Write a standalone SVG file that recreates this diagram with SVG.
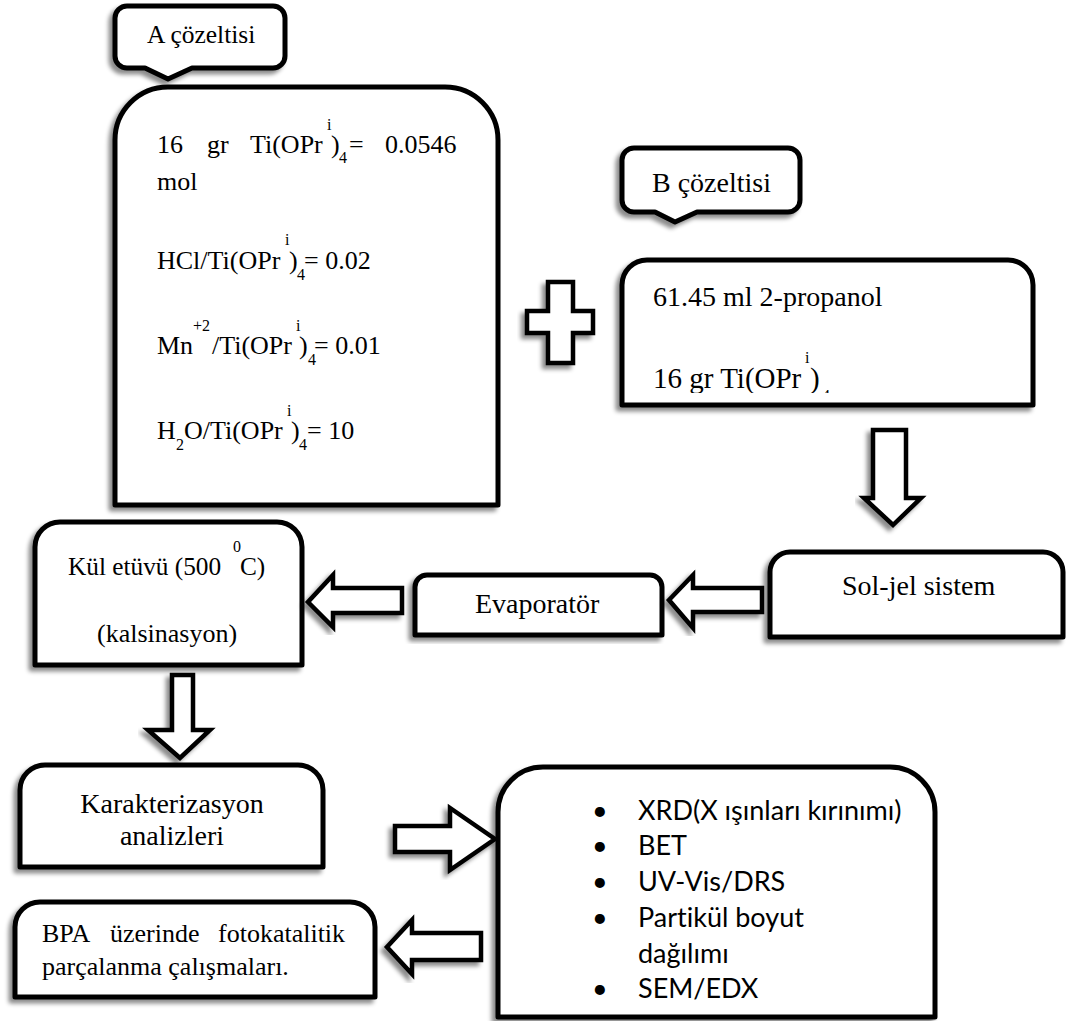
<svg xmlns="http://www.w3.org/2000/svg" width="1073" height="1021" viewBox="0 0 1073 1021">
  <defs>
    <filter id="sh" x="-15%" y="-15%" width="130%" height="130%">
      <feDropShadow dx="-4" dy="4" stdDeviation="2" flood-color="#000" flood-opacity="0.45"/>
    </filter>
    <clipPath id="bclip">
      <rect x="622" y="260" width="411" height="133"/>
    </clipPath>
  </defs>
  <style>
    .box { fill: #fff; stroke: #000; stroke-width: 5; stroke-linejoin: round; filter: url(#sh); }
    .arr { fill: #fff; stroke: #000; stroke-width: 4.5; stroke-linejoin: miter; filter: url(#sh); }
    .t { font-family: "Liberation Serif", "Times New Roman", serif; font-size: 26px; fill: #000; }
    .m { font-size: 28px; }
    .s { font-size: 16px; }
    .l { font-family: Lato, "Liberation Sans", sans-serif; font-size: 27px; fill: #000; font-variant-ligatures: none; }
  </style>
  <rect width="1073" height="1021" fill="#fff"/>

  <!-- callout: solution A -->
  <g id="callout-a">
    <path class="box" d="M127,6 H273 A12,12 0 0 1 285,18 V56 A12,12 0 0 1 273,68 H192 L168,79 L145,68 H127 A12,12 0 0 1 115,56 V18 A12,12 0 0 1 127,6 Z"/>
    <text class="t" x="147" y="43" style="font-size:25.5px">A çözeltisi</text>
  </g>

  <!-- solution A contents -->
  <g id="box-a">
    <path class="box" d="M115,505 V140 A53,53 0 0 1 168,87 H445 A53,53 0 0 1 498,140 V505 Z"/>
    <text class="t">
      <tspan x="157" y="153">16</tspan><tspan x="207" y="153">gr</tspan><tspan x="250" y="153">Ti(OPr</tspan><tspan class="s" x="327" y="130">i</tspan><tspan x="331" y="153">)</tspan><tspan class="s" x="339" y="163">4</tspan><tspan x="349" y="153">=</tspan><tspan x="385" y="153">0.0546</tspan>
    </text>
    <text class="t" x="157" y="190">mol</text>
    <text class="t">
      <tspan x="157" y="269">HCl/Ti(OPr</tspan><tspan class="s" x="285" y="245">i</tspan><tspan x="289" y="269">)</tspan><tspan class="s" x="297" y="280">4</tspan><tspan x="304" y="269">= 0.02</tspan>
    </text>
    <text class="t">
      <tspan x="157" y="354">Mn</tspan><tspan class="s" x="193" y="331">+2</tspan><tspan x="212" y="354">/Ti(OPr</tspan><tspan class="s" x="296" y="331">i</tspan><tspan x="299" y="354">)</tspan><tspan class="s" x="308" y="365">4</tspan><tspan x="314" y="354">= 0.01</tspan>
    </text>
    <text class="t">
      <tspan x="157" y="439">H</tspan><tspan class="s" x="176" y="450">2</tspan><tspan x="184" y="439">O/Ti(OPr</tspan><tspan class="s" x="287" y="416">i</tspan><tspan x="291" y="439">)</tspan><tspan class="s" x="299" y="450">4</tspan><tspan x="307" y="439">= 10</tspan>
    </text>
  </g>

  <!-- callout: solution B -->
  <g id="callout-b">
    <path class="box" d="M634,148 H788 A12,12 0 0 1 800,160 V200 A12,12 0 0 1 788,212 H697 L675,222 L655,212 H634 A12,12 0 0 1 622,200 V160 A12,12 0 0 1 634,148 Z"/>
    <text class="t" x="652" y="192" style="font-size:28px">B çözeltisi</text>
  </g>

  <!-- solution B contents -->
  <g id="box-b">
    <path class="box" d="M622,405 V285 A25,25 0 0 1 647,260 H1008 A25,25 0 0 1 1033,285 V405 Z"/>
    <text class="t m" x="653" y="306">61.45 ml 2-propanol</text>
    <text class="t" style="font-size:29px" clip-path="url(#bclip)">
      <tspan x="653" y="388">16 gr Ti(OPr</tspan><tspan class="s" x="805" y="363">i</tspan><tspan x="810" y="388">)</tspan><tspan class="s" x="822" y="401">4</tspan>
    </text>
  </g>

  <!-- plus sign -->
  <g id="plus">
    <path class="arr" d="M548,282 H573 V311 H593 V333 H573 V363 H548 V333 H527 V311 H548 Z"/>
  </g>

  <g id="sol-jel">
    <path class="box" d="M770,637 V572 A20,20 0 0 1 790,552 H1043 A20,20 0 0 1 1063,572 V637 Z"/>
    <text class="t m" x="842" y="595">Sol-jel sistem</text>
  </g>

  <g id="evaporator">
    <path class="box" d="M415,635 V587 A12,12 0 0 1 427,575 H650 A12,12 0 0 1 662,587 V635 Z"/>
    <text class="t m" x="475" y="613">Evaporatör</text>
  </g>

  <g id="kul-etuvu">
    <path class="box" d="M35,665 V547 A25,25 0 0 1 60,522 H277 A25,25 0 0 1 302,547 V665 Z"/>
    <text class="t" style="font-size:25.3px"><tspan x="68" y="575">Kül etüvü (500</tspan><tspan class="s" x="233" y="552">0</tspan><tspan x="240" y="575">C)</tspan></text>
    <text class="t" x="97" y="642" style="font-size:26px">(kalsinasyon)</text>
  </g>

  <g id="karakterizasyon">
    <path class="box" d="M20,867 V790 A25,25 0 0 1 45,765 H298 A25,25 0 0 1 323,790 V867 Z"/>
    <text class="t m" x="172" y="813" text-anchor="middle">Karakterizasyon</text>
    <text class="t m" x="172" y="845" text-anchor="middle">analizleri</text>
  </g>

  <g id="analizler">
    <path class="box" d="M498,1017 V812 A45,45 0 0 1 543,767 H890 A45,45 0 0 1 935,812 V1017 Z"/>
    <g class="l">
      <text x="592" y="820">•</text><text x="638" y="820">XRD(X ışınları kırınımı)</text>
      <text x="592" y="855">•</text><text x="638" y="855">BET</text>
      <text x="592" y="891">•</text><text x="638" y="891">UV-Vis/DRS</text>
      <text x="592" y="927">•</text><text x="638" y="927">Partikül boyut</text>
      <text x="638" y="963">dağılımı</text>
      <text x="592" y="998">•</text><text x="638" y="998">SEM/EDX</text>
    </g>
  </g>

  <g id="bpa">
    <path class="box" d="M15,997 V927 A25,25 0 0 1 40,902 H350 A25,25 0 0 1 375,927 V997 Z"/>
    <text class="t"><tspan x="42" y="942">BPA</tspan><tspan x="110" y="942">üzerinde</tspan><tspan x="218" y="942">fotokatalitik</tspan></text>
    <text class="t" x="42" y="975">parçalanma çalışmaları.</text>
  </g>

  <!-- block arrows -->
  <g id="connectors">
    <path class="arr" d="M873,430 H906 V498 H921 L893,525 L864,498 H873 Z"/>
    <path class="arr" d="M762,588 V612 H693 V628 L669,600 L693,575 V588 Z"/>
    <path class="arr" d="M402,588 V613 H333 V627 L308,602 L333,575 V588 Z"/>
    <path class="arr" d="M172,675 H193 V730 H210 L180,758 L148,730 H172 Z"/>
    <path class="arr" d="M395,826 H450 V808 L495,839 L450,870 V852 H395 Z"/>
    <path class="arr" d="M481,933 V960 H412 V974 L387,947 L412,920 V933 Z"/>
  </g>
</svg>
